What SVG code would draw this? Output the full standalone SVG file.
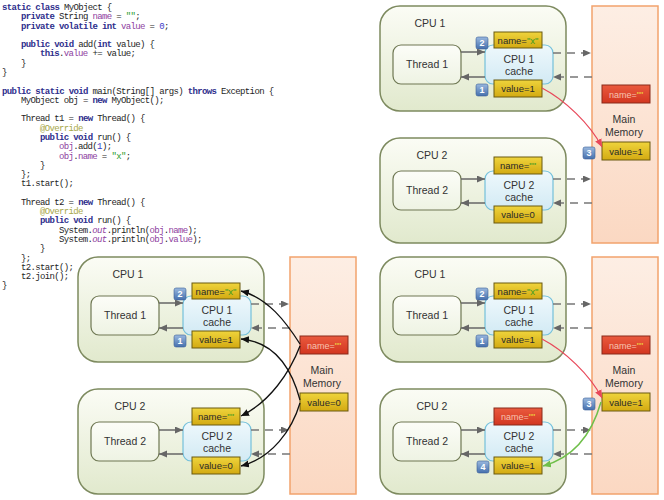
<svg xmlns="http://www.w3.org/2000/svg" width="664" height="500" viewBox="0 0 664 500">
<defs>
<linearGradient id="gCpu" x1="0" y1="0" x2="0" y2="1"><stop offset="0" stop-color="#fbfcf5"/><stop offset="1" stop-color="#e1e9cd"/></linearGradient>
<linearGradient id="gThr" x1="0" y1="0" x2="0" y2="1"><stop offset="0" stop-color="#fcfdf8"/><stop offset="1" stop-color="#eef3e3"/></linearGradient>
<linearGradient id="gCache" x1="0" y1="0" x2="0" y2="1"><stop offset="0" stop-color="#eef8fc"/><stop offset="1" stop-color="#d2eaf4"/></linearGradient>
<linearGradient id="gYel" x1="0" y1="0" x2="0" y2="1"><stop offset="0" stop-color="#efd43c"/><stop offset="1" stop-color="#d3aa12"/></linearGradient>
<linearGradient id="gRed" x1="0" y1="0" x2="0" y2="1"><stop offset="0" stop-color="#ea5a3e"/><stop offset="1" stop-color="#d23620"/></linearGradient>
<linearGradient id="gBadge" x1="0" y1="0" x2="0" y2="1"><stop offset="0" stop-color="#9ab8de"/><stop offset="1" stop-color="#4670ad"/></linearGradient>
<linearGradient id="gMem" x1="0" y1="0" x2="0" y2="1"><stop offset="0" stop-color="#fdeee4"/><stop offset="1" stop-color="#fbd8c2"/></linearGradient>
<marker id="aGray" markerUnits="userSpaceOnUse" markerWidth="9" markerHeight="8" refX="8" refY="3.5" orient="auto"><path d="M0,0 L8,3.5 L0,7 z" fill="#666"/></marker>
<marker id="aRed" markerUnits="userSpaceOnUse" markerWidth="9" markerHeight="8" refX="8" refY="3.5" orient="auto"><path d="M0,0 L8,3.5 L0,7 z" fill="#e8485a"/></marker>
<marker id="aGreen" markerUnits="userSpaceOnUse" markerWidth="9" markerHeight="8" refX="8" refY="3.5" orient="auto"><path d="M0,0 L8,3.5 L0,7 z" fill="#6fbf4a"/></marker>
<marker id="aBlack" markerUnits="userSpaceOnUse" markerWidth="9" markerHeight="8" refX="8" refY="3.5" orient="auto"><path d="M0,0 L8,3.5 L0,7 z" fill="#111"/></marker>
</defs>
<style>
.code{font-family:"Liberation Mono","DejaVu Sans Mono",monospace;font-size:9px;letter-spacing:-0.64px;fill:#1e1e1e}
.k{font-weight:bold;fill:#2e2e8c}
.f{fill:#8e3ea0}
.fi{fill:#8e3ea0;font-style:italic}
.s{fill:#2f9e2f}
.n{fill:#3b3bc8}
.a{fill:#a8a84a}
.cpu{fill:url(#gCpu);stroke:#7d8a5f;stroke-width:1.5}
.thr{fill:url(#gThr);stroke:#6e7752;stroke-width:1.2}
.cache{fill:url(#gCache);stroke:#74c0da;stroke-width:1.2}
.yel{fill:url(#gYel);stroke:#6a5a10;stroke-width:1}
.red{fill:url(#gRed);stroke:#8a2a1a;stroke-width:1}
.mem{fill:url(#gMem);stroke:#f2a36c;stroke-width:1.5}
.badge{fill:url(#gBadge);stroke:#3a5f98;stroke-width:0.6}
.lbl{font-family:"Liberation Sans",Arial,sans-serif;font-size:10.5px;fill:#333;text-anchor:middle}
.bt{font-family:"Liberation Sans",Arial,sans-serif;font-size:9.5px;fill:#2a2a2a;text-anchor:middle}
.rt{font-family:"Liberation Sans",Arial,sans-serif;font-size:9px;fill:#f7c4b0;text-anchor:middle}
.q{fill:#3e9a22}
.rq{fill:#eedc40}
.bn{font-family:"Liberation Sans",Arial,sans-serif;font-size:9px;font-weight:bold;fill:#fff;text-anchor:middle}
.sol{fill:none;stroke:#666;stroke-width:1.5;marker-end:url(#aGray)}
.dash{fill:none;stroke:#777;stroke-width:1.5;stroke-dasharray:8,6;marker-end:url(#aGray)}
.rl{fill:none;stroke:#e8485a;stroke-width:1.2;marker-end:url(#aRed)}
.gl{fill:none;stroke:#6fbf4a;stroke-width:1.5;marker-end:url(#aGreen)}
.bl{fill:none;stroke:#111;stroke-width:1.3;marker-end:url(#aBlack)}
</style>

<g id="code">
<text class="code" x="2" y="10"><tspan class="k">static</tspan> <tspan class="k">class</tspan> MyObject {</text>
<text class="code" x="21" y="19.3"><tspan class="k">private</tspan> String <tspan class="f">name</tspan> = <tspan class="s">""</tspan>;</text>
<text class="code" x="21" y="28.6"><tspan class="k">private</tspan> <tspan class="k">volatile</tspan> <tspan class="k">int</tspan> <tspan class="f">value</tspan> = <tspan class="n">0</tspan>;</text>
<text class="code" x="21" y="47.1"><tspan class="k">public</tspan> <tspan class="k">void</tspan> add(<tspan class="k">int</tspan> value) {</text>
<text class="code" x="40" y="56.4"><tspan class="k">this</tspan>.<tspan class="f">value</tspan> += value;</text>
<text class="code" x="21" y="65.7">}</text>
<text class="code" x="2" y="75">}</text>
<text class="code" x="2" y="93.5"><tspan class="k">public</tspan> <tspan class="k">static</tspan> <tspan class="k">void</tspan> main(String[] args) <tspan class="k">throws</tspan> Exception {</text>
<text class="code" x="21" y="102.8">MyObject obj = <tspan class="k">new</tspan> MyObject();</text>
<text class="code" x="21" y="121.4">Thread t1 = <tspan class="k">new</tspan> Thread() {</text>
<text class="code" x="40" y="130.6"><tspan class="a">@Override</tspan></text>
<text class="code" x="40" y="139.9"><tspan class="k">public</tspan> <tspan class="k">void</tspan> run() {</text>
<text class="code" x="59" y="149.2"><tspan class="f">obj</tspan>.add(<tspan class="n">1</tspan>);</text>
<text class="code" x="59" y="158.5"><tspan class="f">obj</tspan>.<tspan class="f">name</tspan> = <tspan class="s">"x"</tspan>;</text>
<text class="code" x="40" y="167.8">}</text>
<text class="code" x="21" y="177">};</text>
<text class="code" x="21" y="186.3">t1.start();</text>
<text class="code" x="21" y="204.9">Thread t2 = <tspan class="k">new</tspan> Thread() {</text>
<text class="code" x="40" y="214.2"><tspan class="a">@Override</tspan></text>
<text class="code" x="40" y="223.4"><tspan class="k">public</tspan> <tspan class="k">void</tspan> run() {</text>
<text class="code" x="59" y="232.7">System.<tspan class="fi">out</tspan>.println(<tspan class="f">obj</tspan>.<tspan class="f">name</tspan>);</text>
<text class="code" x="59" y="242">System.<tspan class="fi">out</tspan>.println(<tspan class="f">obj</tspan>.<tspan class="f">value</tspan>);</text>
<text class="code" x="40" y="251.3">}</text>
<text class="code" x="21" y="260.6">};</text>
<text class="code" x="21" y="269.8">t2.start();</text>
<text class="code" x="21" y="279.1">t2.join();</text>
<text class="code" x="2" y="288.4">}</text>
</g>

<!-- ===== Top-right panel ===== -->
<g id="tr-cpu1"><rect class="cpu" x="380" y="6" width="186" height="105" rx="20"/><text class="lbl" x="430" y="27">CPU 1</text></g>
<g id="tr-thread1"><rect class="thr" x="393" y="45" width="68" height="39" rx="8"/><text class="lbl" x="427" y="68">Thread 1</text></g>
<g id="tr-cache1"><rect class="cache" x="485" y="45" width="68" height="39" rx="8"/><text class="lbl" x="519" y="63">CPU 1</text><text class="lbl" x="519" y="75">cache</text></g>
<g id="tr-c1-name"><rect class="yel" x="494" y="32" width="48" height="16"/><text class="bt" x="518" y="43.5">name=<tspan class="q">"x"</tspan></text></g>
<g id="tr-c1-value"><rect class="yel" x="494" y="80" width="48" height="17"/><text class="bt" x="518" y="92">value=1</text></g>
<g id="tr-b2"><rect class="badge" x="476" y="37" width="12" height="12" rx="2"/><text class="bn" x="482" y="46.3">2</text></g>
<g id="tr-b1"><rect class="badge" x="476" y="84" width="12" height="12" rx="2"/><text class="bn" x="482" y="93.3">1</text></g>

<g id="tr-cpu2"><rect class="cpu" x="380" y="138" width="186" height="105" rx="20"/><text class="lbl" x="432" y="159">CPU 2</text></g>
<g id="tr-thread2"><rect class="thr" x="393" y="171" width="68" height="39" rx="8"/><text class="lbl" x="427" y="194">Thread 2</text></g>
<g id="tr-cache2"><rect class="cache" x="485" y="171" width="68" height="39" rx="8"/><text class="lbl" x="519" y="189">CPU 2</text><text class="lbl" x="519" y="201">cache</text></g>
<g id="tr-c2-name"><rect class="yel" x="494" y="157" width="48" height="17"/><text class="bt" x="518" y="169">name=<tspan class="q">""</tspan></text></g>
<g id="tr-c2-value"><rect class="yel" x="494" y="206" width="48" height="17"/><text class="bt" x="518" y="218">value=0</text></g>

<g id="tr-mem"><rect class="mem" x="592" y="6" width="66" height="237"/><text class="lbl" x="624" y="123">Main</text><text class="lbl" x="624" y="136">Memory</text></g>
<g id="tr-m-name"><rect class="red" x="602" y="85" width="48" height="18"/><text class="rt" x="626" y="97.5">name=<tspan class="rq">""</tspan></text></g>
<g id="tr-m-value"><rect class="yel" x="602" y="142" width="48" height="18"/><text class="bt" x="626" y="154.5">value=1</text></g>
<g id="tr-b3"><rect class="badge" x="583" y="147" width="12" height="12" rx="2"/><text class="bn" x="589" y="156.3">3</text></g>

<!-- ===== Bottom-left panel ===== -->
<g id="bl-cpu1"><rect class="cpu" x="78" y="257" width="186" height="105" rx="20"/><text class="lbl" x="128" y="278">CPU 1</text></g>
<g id="bl-thread1"><rect class="thr" x="91" y="296" width="68" height="39" rx="8"/><text class="lbl" x="125" y="319">Thread 1</text></g>
<g id="bl-cache1"><rect class="cache" x="183" y="296" width="68" height="39" rx="8"/><text class="lbl" x="217" y="314">CPU 1</text><text class="lbl" x="217" y="326">cache</text></g>
<g id="bl-c1-name"><rect class="yel" x="192" y="283" width="48" height="16"/><text class="bt" x="216" y="294.5">name=<tspan class="q">"x"</tspan></text></g>
<g id="bl-c1-value"><rect class="yel" x="192" y="331" width="48" height="17"/><text class="bt" x="216" y="343">value=1</text></g>
<g id="bl-b2"><rect class="badge" x="174" y="288" width="12" height="12" rx="2"/><text class="bn" x="180" y="297.3">2</text></g>
<g id="bl-b1"><rect class="badge" x="174" y="335" width="12" height="12" rx="2"/><text class="bn" x="180" y="344.3">1</text></g>

<g id="bl-cpu2"><rect class="cpu" x="78" y="389" width="186" height="105" rx="20"/><text class="lbl" x="130" y="410">CPU 2</text></g>
<g id="bl-thread2"><rect class="thr" x="91" y="422" width="68" height="39" rx="8"/><text class="lbl" x="125" y="445">Thread 2</text></g>
<g id="bl-cache2"><rect class="cache" x="183" y="422" width="68" height="39" rx="8"/><text class="lbl" x="217" y="440">CPU 2</text><text class="lbl" x="217" y="452">cache</text></g>
<g id="bl-c2-name"><rect class="yel" x="192" y="408" width="48" height="17"/><text class="bt" x="216" y="420">name=<tspan class="q">""</tspan></text></g>
<g id="bl-c2-value"><rect class="yel" x="192" y="457" width="48" height="17"/><text class="bt" x="216" y="469">value=0</text></g>

<g id="bl-mem"><rect class="mem" x="290" y="257" width="66" height="237"/><text class="lbl" x="322" y="374">Main</text><text class="lbl" x="322" y="387">Memory</text></g>
<g id="bl-m-name"><rect class="red" x="300" y="336" width="48" height="18"/><text class="rt" x="324" y="348.5">name=<tspan class="rq">""</tspan></text></g>
<g id="bl-m-value"><rect class="yel" x="300" y="393" width="48" height="18"/><text class="bt" x="324" y="405.5">value=0</text></g>

<!-- ===== Bottom-right panel ===== -->
<g id="br-cpu1"><rect class="cpu" x="380" y="257" width="186" height="105" rx="20"/><text class="lbl" x="430" y="278">CPU 1</text></g>
<g id="br-thread1"><rect class="thr" x="393" y="296" width="68" height="39" rx="8"/><text class="lbl" x="427" y="319">Thread 1</text></g>
<g id="br-cache1"><rect class="cache" x="485" y="296" width="68" height="39" rx="8"/><text class="lbl" x="519" y="314">CPU 1</text><text class="lbl" x="519" y="326">cache</text></g>
<g id="br-c1-name"><rect class="yel" x="494" y="283" width="48" height="16"/><text class="bt" x="518" y="294.5">name=<tspan class="q">"x"</tspan></text></g>
<g id="br-c1-value"><rect class="yel" x="494" y="331" width="48" height="17"/><text class="bt" x="518" y="343">value=1</text></g>
<g id="br-b2"><rect class="badge" x="476" y="288" width="12" height="12" rx="2"/><text class="bn" x="482" y="297.3">2</text></g>
<g id="br-b1"><rect class="badge" x="476" y="335" width="12" height="12" rx="2"/><text class="bn" x="482" y="344.3">1</text></g>

<g id="br-cpu2"><rect class="cpu" x="380" y="389" width="186" height="105" rx="20"/><text class="lbl" x="432" y="410">CPU 2</text></g>
<g id="br-thread2"><rect class="thr" x="393" y="422" width="68" height="39" rx="8"/><text class="lbl" x="427" y="445">Thread 2</text></g>
<g id="br-cache2"><rect class="cache" x="485" y="422" width="68" height="39" rx="8"/><text class="lbl" x="519" y="440">CPU 2</text><text class="lbl" x="519" y="452">cache</text></g>
<g id="br-c2-name"><rect class="red" x="494" y="408" width="48" height="17"/><text class="rt" x="518" y="420">name=<tspan class="rq">""</tspan></text></g>
<g id="br-c2-value"><rect class="yel" x="494" y="457" width="48" height="17"/><text class="bt" x="518" y="469">value=1</text></g>
<g id="br-b4"><rect class="badge" x="477" y="461" width="12" height="12" rx="2"/><text class="bn" x="483" y="470.3">4</text></g>

<g id="br-mem"><rect class="mem" x="592" y="257" width="66" height="237"/><text class="lbl" x="624" y="374">Main</text><text class="lbl" x="624" y="387">Memory</text></g>
<g id="br-m-name"><rect class="red" x="602" y="336" width="48" height="18"/><text class="rt" x="626" y="348.5">name=<tspan class="rq">""</tspan></text></g>
<g id="br-m-value"><rect class="yel" x="602" y="393" width="48" height="18"/><text class="bt" x="626" y="405.5">value=1</text></g>
<g id="br-b3"><rect class="badge" x="583" y="398" width="12" height="12" rx="2"/><text class="bn" x="589" y="407.3">3</text></g>

<g id="connectors">
<!-- top-right -->
<path class="sol" d="M461,52 H485"/>
<path class="sol" d="M485,77 H461"/>
<path class="dash" d="M553,53 H591"/>
<path class="dash" d="M592,77 H553"/>
<path class="sol" d="M461,179 H485"/>
<path class="sol" d="M485,203 H461"/>
<path class="dash" d="M553,179 H591"/>
<path class="dash" d="M592,203 H553"/>
<path class="rl" d="M542,88 C565,100 590,124 602,147"/>
<!-- bottom-left -->
<path class="sol" d="M159,303 H183"/>
<path class="sol" d="M183,328 H159"/>
<path class="dash" d="M251,304 H289"/>
<path class="dash" d="M290,328 H251"/>
<path class="sol" d="M159,430 H183"/>
<path class="sol" d="M183,454 H159"/>
<path class="dash" d="M251,430 H289"/>
<path class="dash" d="M290,454 H251"/>
<path class="bl" d="M300,344 C286,322 268,298 241,291"/>
<path class="bl" d="M300,346 C290,372 270,402 241,416"/>
<path class="bl" d="M300,400 C292,370 275,342 241,339"/>
<path class="bl" d="M300,403 C292,430 272,458 241,466"/>
<!-- bottom-right -->
<path class="sol" d="M461,303 H485"/>
<path class="sol" d="M485,328 H461"/>
<path class="dash" d="M553,304 H591"/>
<path class="dash" d="M592,328 H553"/>
<path class="sol" d="M461,430 H485"/>
<path class="sol" d="M485,454 H461"/>
<path class="dash" d="M553,430 H591"/>
<path class="dash" d="M592,454 H553"/>
<path class="rl" d="M542,339 C565,351 590,375 602,398"/>
<path class="gl" d="M601,402 C593,430 576,457 543,466"/>
</g>
</svg>
